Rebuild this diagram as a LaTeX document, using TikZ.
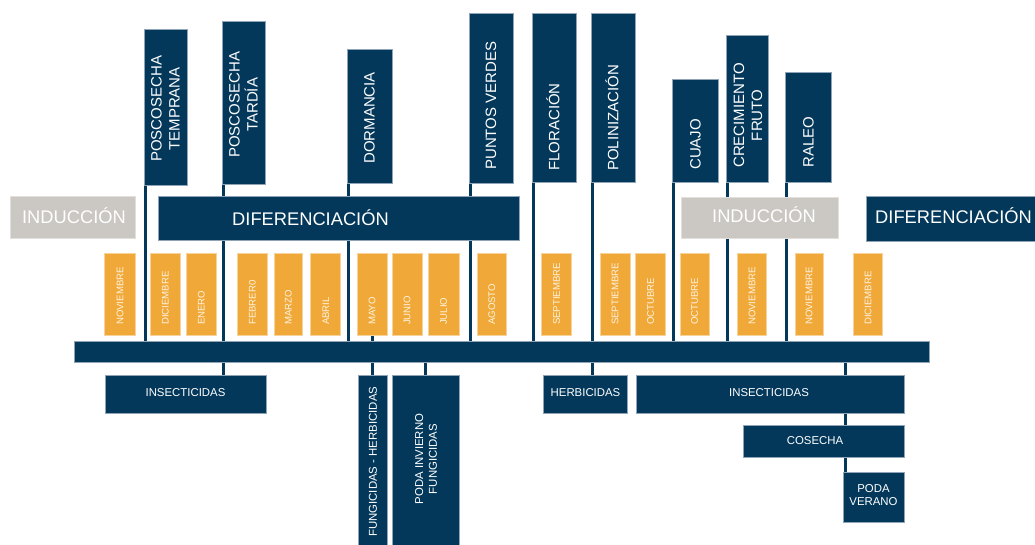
\documentclass[tikz,border=0pt]{standalone}
\usepackage{fontspec}
\setmainfont{Liberation Sans}
\usetikzlibrary{backgrounds}
\definecolor{navy}{HTML}{03385B}
\definecolor{navyedge}{HTML}{8FA4B6}
\definecolor{amber}{HTML}{F0A939}
\definecolor{amberedge}{HTML}{F6D39A}
\definecolor{stone}{HTML}{CBC7C3}
\definecolor{stoneedge}{HTML}{E2DFDC}
\definecolor{monthink}{HTML}{FFF4E2}

\begin{document}
\begin{tikzpicture}[x=1pt,y=-1pt,
  box/.style={inner sep=0pt, outer sep=0pt, anchor=north west, line width=0.5pt},
  navybox/.style={box, fill=navy, draw=navyedge},
  stonebox/.style={box, fill=stone, draw=stoneedge},
  monthbox/.style={box, fill=amber, draw=amberedge, minimum height=82pt},
  stagetxt/.style={text=white, font=\fontsize{15}{18}\selectfont, align=center,
    rotate=90, anchor=west, inner sep=0pt},
  capsonly/.style={text height=10.7pt, text depth=0pt},
  monthtxt/.style={text=monthink, font=\fontsize{9.6}{11}\selectfont,
    rotate=90, anchor=west, inner sep=0pt},
  phasetxt/.style={text=white, font=\fontsize{18.3}{22}\selectfont, inner sep=0pt},
  tasktxt/.style={text=white, font=\fontsize{11.4}{13.8}\selectfont,
    inner sep=0pt, align=center},
  conn/.style={draw=navy, line width=3pt}
]
\useasboundingbox (0,0) rectangle (1035,544);

% ---- timeline bar ----
\node[navybox, minimum width=855pt, minimum height=21pt] (bar) at (74,341) {};

% ---- stage boxes above the bar ----
\node[navybox, minimum width=43pt, minimum height=156pt] (ptem) at (144,29) {};
\node[navybox, minimum width=43pt, minimum height=163pt] (ptar) at (222,21) {};
\node[navybox, minimum width=45pt, minimum height=134pt] (dorm) at (347,49) {};
\node[navybox, minimum width=44pt, minimum height=170pt] (pver) at (469,13) {};
\node[navybox, minimum width=44pt, minimum height=169pt] (flor) at (532,13) {};
\node[navybox, minimum width=44pt, minimum height=169pt] (poli) at (591,13) {};
\node[navybox, minimum width=46pt, minimum height=103pt] (cuaj) at (672,79) {};
\node[navybox, minimum width=42pt, minimum height=147pt] (crec) at (726,35) {};
\node[navybox, minimum width=46pt, minimum height=110pt] (rale) at (785,72) {};

\node[stagetxt] (tptem) at (165.5,162) {POSCOSECHA\\TEMPRANA};
\node[stagetxt] (tptar) at (243.5,158) {POSCOSECHA\\TARDÍA};
\node[stagetxt] (tdorm) at (369.5,164) {DORMANCIA};
\node[stagetxt] (tpver) at (491,170) {PUNTOS VERDES};
\node[stagetxt, capsonly] (tflor) at (554,171) {FLORACIÓN};
\node[stagetxt, capsonly] (tpoli) at (613,171) {POLINIZACIÓN};
\node[stagetxt] (tcuaj) at (695.5,170) {CUAJO};
\node[stagetxt] (tcrec) at (748,168) {CRECIMIENTO\\FRUTO};
\node[stagetxt] (trale) at (808.5,168) {RALEO};

% ---- stems from each stage down to the bar ----
\begin{scope}[on background layer]
  \foreach \s in {ptem,ptar,dorm,pver,flor,poli,cuaj,crec,rale}{
    \path ([xshift=1.7pt]\s.south west) coordinate (\s-stem);
    \draw[conn] (\s-stem) -- (\s-stem |- bar.north);
  }
\end{scope}

% ---- phase bands ----
\node[stonebox, minimum width=125pt, minimum height=42pt] (ind1) at (10,196) {};
\node[navybox, minimum width=361pt, minimum height=44pt] (dif1) at (158,196) {};
\node[stonebox, minimum width=157pt, minimum height=41pt] (ind2) at (681,197) {};
\node[navybox, minimum width=180pt, minimum height=45pt] (dif2) at (866,196) {};

\node[phasetxt, anchor=base] (tind1) at (74,223.3) {INDUCCIÓN};
\node[phasetxt, anchor=base west] (tdif1) at (232,225) {DIFERENCIACIÓN};
\node[phasetxt, anchor=base] (tind2) at (764,222.7) {INDUCCIÓN};
\node[phasetxt, anchor=base west] (tdif2) at (875,223.3) {DIFERENCIACIÓN};

% ---- months ----
\foreach \n/\a/\b/\m in {
  m1/104.3/135.7/NOVIEMBRE, m2/150/180.7/DICIEMBRE, m3/186/216.7/ENERO,
  m4/237.3/267.3/FEBRER0, m5/274/302.7/MARZO, m6/310.7/340.7/ABRIL,
  m7/357/387/MAYO, m8/392/422/JUNIO, m9/428/459/JULIO,
  m10/477/506.7/AGOSTO, m11/541.7/571.3/SEPTIEMBRE, m12/600/630/SEPTIEMBRE,
  m13/635.7/665.3/OCTUBRE, m14/680/709.3/OCTUBRE, m15/737.3/766.7/NOVIEMBRE,
  m16/795/823.3/NOVIEMBRE, m17/853.3/882.7/DICIEMBRE}{
  \pgfmathsetmacro{\w}{\b-\a}
  \pgfmathsetmacro{\c}{(\a+\b)/2}
  \node[monthbox, minimum width=\w pt] (\n) at (\a,253) {};
  \node[monthtxt] (t\n) at (\c,325) {\m};
}

% ---- tasks below the bar ----
\node[navybox, minimum width=161pt, minimum height=38pt] (ins1) at (105,375) {};
\node[navybox, minimum width=29pt, minimum height=180pt] (fung) at (358,375) {};
\node[navybox, minimum width=67pt, minimum height=180pt] (pinv) at (392,375) {};
\node[navybox, minimum width=84pt, minimum height=38pt] (herb) at (543,375) {};
\node[navybox, minimum width=268pt, minimum height=38pt] (ins2) at (636,375) {};
\node[navybox, minimum width=161pt, minimum height=32pt] (cose) at (743,425) {};
\node[navybox, minimum width=61pt, minimum height=50pt] (pver2) at (843,472) {};

\node[tasktxt] (tins1) at (185.5,392.5) {INSECTICIDAS};
\node[tasktxt, rotate=90, anchor=west] (tfung) at (373,537) {FUNGICIDAS - HERBICIDAS};
\node[tasktxt, rotate=90] (tpinv) at (426,459) {PODA INVIERNO\\FUNGICIDAS};
\node[tasktxt] (therb) at (585.5,392.5) {HERBICIDAS};
\node[tasktxt] (tins2) at (769,392.5) {INSECTICIDAS};
\node[tasktxt] (tcose) at (815,441) {COSECHA};
\node[tasktxt] (tpver2) at (873.5,495) {PODA\\VERANO};

% ---- stems from the bar down to the tasks ----
\begin{scope}[on background layer]
  \draw[conn] (ptar-stem |- bar.south) -- (ptar-stem |- ins1.north);
  \draw[conn] (m7.south) -- (m7.south |- fung.north);
  \draw[conn] (pinv.north |- bar.south) -- (pinv.north);
  \draw[conn] (poli-stem |- bar.south) -- (poli-stem |- herb.north);
  \path ([xshift=2pt]pver2.north west) coordinate (last-stem);
  \draw[conn] (last-stem |- bar.south) -- (last-stem |- ins2.north);
  \draw[conn] (last-stem |- ins2.south) -- (last-stem |- cose.north);
  \draw[conn] (last-stem |- cose.south) -- (last-stem);
\end{scope}
\end{tikzpicture}
\end{document}
